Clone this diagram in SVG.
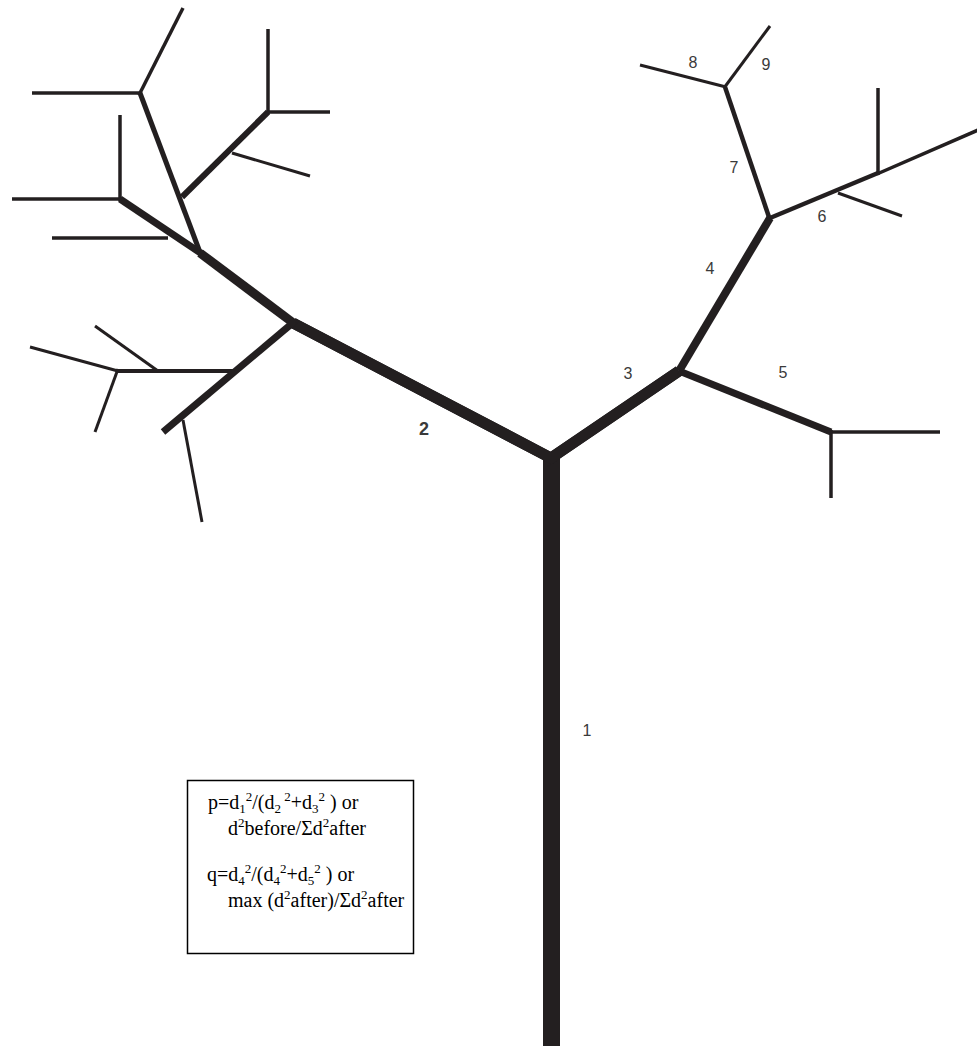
<svg xmlns="http://www.w3.org/2000/svg" width="977" height="1046" viewBox="0 0 977 1046">
<style>
.b{stroke:#231f20;fill:none;stroke-linecap:butt;stroke-linejoin:miter}
.lbl{font-family:"Liberation Sans",Arial,sans-serif;font-size:16px;fill:#3a3a3a;text-anchor:middle}
.f{font-family:"Liberation Serif","Times New Roman",serif;font-size:20px;fill:#000}
.s{font-size:13px}
</style>
<rect width="977" height="1046" fill="#fff"/>
<g id="connectors">
<g id="seg1">
<line class="b" x1="551.5" y1="452" x2="551.5" y2="1046" stroke-width="17"/>
<text class="lbl" x="587" y="736">1</text>
</g>
<g id="seg2">
<polyline class="b" points="293,323 551,458" stroke-width="11"/>
<text class="lbl" x="424" y="435" style="font-weight:bold;font-size:18px">2</text>
</g>
<g id="seg3">
<polyline class="b" points="545,462 679,371" stroke-width="11"/>
<text class="lbl" x="628" y="379">3</text>
</g>
<g id="joint-top">
<polyline class="b" points="293,323 551,458 679,371" stroke-width="11"/>
</g>
<g id="seg4">
<line class="b" x1="679" y1="371" x2="770" y2="218" stroke-width="8"/>
<text class="lbl" x="710" y="274">4</text>
</g>
<g id="seg5">
<line class="b" x1="679" y1="371" x2="831" y2="432" stroke-width="7"/>
<line class="b" x1="829" y1="432" x2="940" y2="432" stroke-width="3.5"/>
<line class="b" x1="831" y1="430" x2="831" y2="498" stroke-width="3.5"/>
<text class="lbl" x="783" y="378">5</text>
</g>
<g id="seg6">
<line class="b" x1="770" y1="218" x2="878" y2="173" stroke-width="4.5"/>
<line class="b" x1="877" y1="174" x2="985" y2="127" stroke-width="3.5"/>
<line class="b" x1="878" y1="175" x2="878" y2="88" stroke-width="3.5"/>
<line class="b" x1="838" y1="193" x2="902" y2="216" stroke-width="3"/>
<text class="lbl" x="822" y="222">6</text>
</g>
<g id="seg7">
<line class="b" x1="770" y1="220" x2="725" y2="87" stroke-width="4.5"/>
<text class="lbl" x="734" y="173">7</text>
</g>
<g id="seg8">
<line class="b" x1="726" y1="87" x2="640" y2="65" stroke-width="3"/>
<text class="lbl" x="693" y="68">8</text>
</g>
<g id="seg9">
<line class="b" x1="724" y1="88" x2="770" y2="26" stroke-width="3"/>
<text class="lbl" x="766" y="70">9</text>
</g>
<g id="left-upper">
<line class="b" x1="296" y1="325" x2="200" y2="253" stroke-width="9"/>
<line class="b" x1="201" y1="255" x2="140" y2="93" stroke-width="5"/>
<line class="b" x1="141" y1="93" x2="32" y2="93" stroke-width="3.5"/>
<line class="b" x1="139" y1="95" x2="183" y2="8" stroke-width="3.5"/>
<line class="b" x1="182" y1="197" x2="268" y2="112" stroke-width="6"/>
<line class="b" x1="268" y1="114" x2="268" y2="29" stroke-width="3.5"/>
<line class="b" x1="267" y1="112" x2="330" y2="112" stroke-width="3.5"/>
<line class="b" x1="232" y1="153" x2="310" y2="176" stroke-width="3"/>
<line class="b" x1="202" y1="254" x2="120" y2="199" stroke-width="7"/>
<line class="b" x1="120" y1="201" x2="120" y2="115" stroke-width="3.5"/>
<line class="b" x1="121" y1="199" x2="12" y2="199" stroke-width="3.5"/>
<line class="b" x1="52" y1="238" x2="168" y2="238" stroke-width="3.5"/>
</g>
<g id="left-lower">
<line class="b" x1="295" y1="321" x2="163" y2="432" stroke-width="7"/>
<line class="b" x1="236" y1="371" x2="116" y2="371" stroke-width="4"/>
<line class="b" x1="118" y1="371" x2="30" y2="347" stroke-width="3"/>
<line class="b" x1="118" y1="369" x2="95" y2="432" stroke-width="3"/>
<line class="b" x1="158" y1="371" x2="95" y2="326" stroke-width="3"/>
<line class="b" x1="183" y1="420" x2="202" y2="522" stroke-width="3"/>
</g>
</g>
<g id="formula-box">
<rect x="187.5" y="780.5" width="226" height="173" fill="#fff" stroke="#000" stroke-width="1.5"/>
<text class="f" x="208" y="809">p=d<tspan class="s" dy="4">1</tspan><tspan class="s" dy="-12">2</tspan><tspan dy="8">/(d</tspan><tspan class="s" dy="4">2</tspan><tspan class="s" dy="-12"> 2</tspan><tspan dy="8">+d</tspan><tspan class="s" dy="4">3</tspan><tspan class="s" dy="-12">2</tspan><tspan dy="8"> ) or</tspan></text>
<text class="f" x="228" y="835">d<tspan class="s" dy="-8">2</tspan><tspan dy="8">before/Σd</tspan><tspan class="s" dy="-8">2</tspan><tspan dy="8">after</tspan></text>
<text class="f" x="207" y="881">q=d<tspan class="s" dy="4">4</tspan><tspan class="s" dy="-12">2</tspan><tspan dy="8">/(d</tspan><tspan class="s" dy="4">4</tspan><tspan class="s" dy="-12">2</tspan><tspan dy="8">+d</tspan><tspan class="s" dy="4">5</tspan><tspan class="s" dy="-12">2</tspan><tspan dy="8"> ) or</tspan></text>
<text class="f" x="228" y="907">max (d<tspan class="s" dy="-8">2</tspan><tspan dy="8">after)/Σd</tspan><tspan class="s" dy="-8">2</tspan><tspan dy="8">after</tspan></text>
</g>
</svg>
